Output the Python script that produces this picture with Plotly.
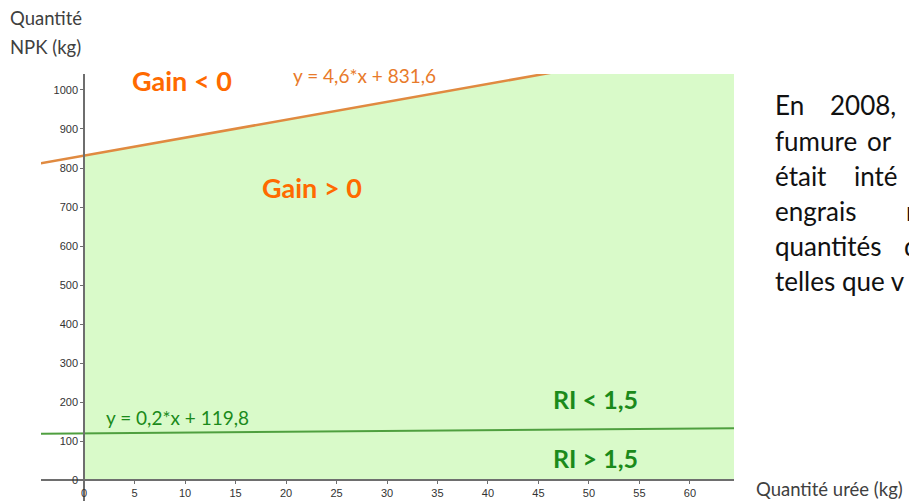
import plotly.graph_objects as go

# axes ticks (kg)
uree_ticks = [0, 5, 10, 15, 20, 25, 30, 35, 40, 45, 50, 55, 60]
npk_ticks = [0, 100, 200, 300, 400, 500, 600, 700, 800, 900, 1000]

# line end points
line_x = [-4.3, 64.4]
gain_y = [811.8, 1127.8]   # y = 4,6*x + 831,6
ri_y = [118.9, 132.7]      # y = 0,2*x + 119,8

# zone where gain > 0 (x >= 0, y >= 0, under the gain line)
zone_x = [0, 0, 64.4, 64.4]
zone_y = [0, 831.6, 1127.8, 0]

x_range = [-4.26, 64.36]
y_range = [-53.8, 1041]

calibri = "Lato, Carlito, Calibri, sans-serif"
orange = "#ff6a00"
green = "#1b8a1b"

fig = go.Figure()

fig.add_trace(go.Scatter(
    x=zone_x, y=zone_y, fill="toself", mode="lines",
    fillcolor="#d9fac9", line=dict(width=0), hoverinfo="skip"
))
fig.add_trace(go.Scatter(
    x=line_x, y=gain_y, mode="lines",
    line=dict(color="#e08a40", width=2.5), hoverinfo="skip"
))
fig.add_trace(go.Scatter(
    x=line_x, y=ri_y, mode="lines",
    line=dict(color="#4f9f3f", width=2), hoverinfo="skip"
))

# labels inside the graph
labels = [
    ("Gain < 0", 9.7, 1025, orange, 27, True),
    ("y = 4,6*x + 831,6", 27.8, 1038, "#e87a2a", 19, False),
    ("Gain > 0", 22.6, 749, orange, 27, True),
    ("y = 0,2*x + 119,8", 9.3, 161, green, 19, False),
    ("RI < 1,5", 50.6, 208, green, 25, True),
    ("RI > 1,5", 50.6, 56, green, 25, True),
]
for text, x, y, color, size, bold in labels:
    fig.add_annotation(
        x=x, y=y, text="<b>%s</b>" % text if bold else text,
        showarrow=False, font=dict(family=calibri, size=size, color=color)
    )


def page_text(text, px, py, size, color):
    # place a text by its left edge / vertical centre in page pixels
    fig.add_annotation(x=(px - 41) / 693, y=(501 - py) / 427,
                       xref="paper", yref="paper",
                       xanchor="left", yanchor="middle",
                       text=text, showarrow=False,
                       font=dict(family=calibri, size=size, color=color))


# axis titles
page_text("Quantité", 8, 18, 18.5, "#404040")
page_text("NPK (kg)", 8, 47, 18.5, "#404040")
page_text("Quantité urée (kg)", 754, 489, 18.5, "#404040")

# slide text next to the graph (justified, cut by the page edge)
side_words = [
    [("En", 773), ("2008,", 828)],
    [("fumure", 773), ("or", 865)],
    [("était", 773), ("inté", 852)],
    [("engrais", 773), ("m", 904)],
    [("quantités", 773), ("d", 902)],
    [("telles que v", 773)],
]
side_y = [105, 141, 176, 211, 246, 281]
for words, py in zip(side_words, side_y):
    for word, px in words:
        page_text(word, px, py, 26, "#111111")

axis_style = dict(
    showgrid=False, zeroline=False, showline=True,
    linecolor="#6e6e6e", linewidth=1.5, anchor="free",
    ticks="outside", ticklen=3, tickcolor="#6e6e6e",
    tickfont=dict(family="Liberation Sans", size=11, color="#333333"),
)
fig.update_xaxes(range=x_range, tickvals=uree_ticks,
                 position=53.8 / (1041 + 53.8), **axis_style)
fig.update_yaxes(range=y_range, tickvals=npk_ticks,
                 position=43 / 693, **axis_style)

fig.update_layout(
    width=909, height=501,
    margin=dict(l=41, r=175, t=74, b=0),
    plot_bgcolor="white", paper_bgcolor="white",
    showlegend=False,
)

fig.write_html("out.html", config={"displayModeBar": False},
               post_script="document.body.style.margin = '0';")
